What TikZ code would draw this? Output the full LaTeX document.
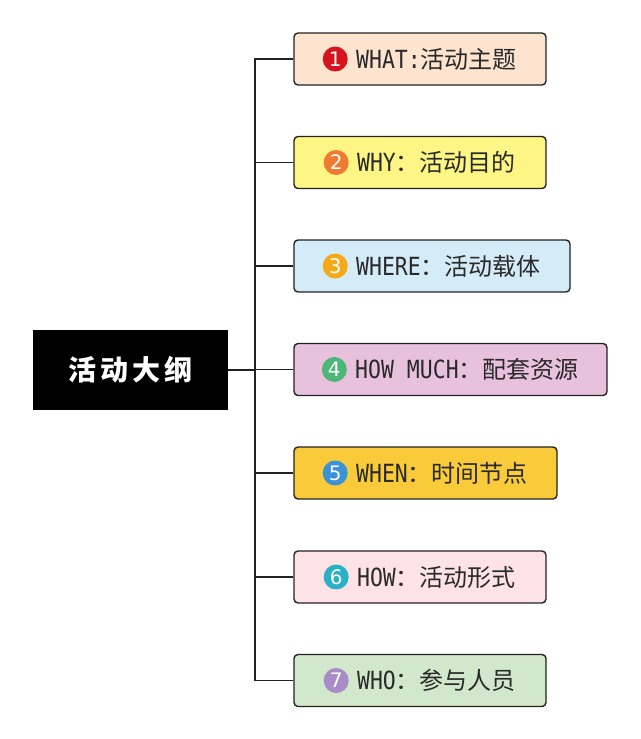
\documentclass[tikz,border=0pt]{standalone}
\usepackage{fontspec}
\newfontfamily\cjk{Noto Sans CJK SC}
\newfontfamily\lat[FakeStretch=0.86]{DejaVu Sans Mono}
\newfontfamily\numfont{DejaVu Sans}
\definecolor{linec}{HTML}{222222}
\definecolor{textc}{HTML}{2A2A2A}
\definecolor{f1}{HTML}{FCE4CF}
\definecolor{f2}{HTML}{FDF584}
\definecolor{f3}{HTML}{D4ECF7}
\definecolor{f4}{HTML}{E8C2DD}
\definecolor{f5}{HTML}{F9CB3A}
\definecolor{f6}{HTML}{FDE2E6}
\definecolor{f7}{HTML}{D2E8CC}
\definecolor{n1}{HTML}{D7141E}
\definecolor{n2}{HTML}{F07A30}
\definecolor{n3}{HTML}{F5A818}
\definecolor{n4}{HTML}{4DB77A}
\definecolor{n5}{HTML}{3A93D7}
\definecolor{n6}{HTML}{2BB0C8}
\definecolor{n7}{HTML}{A98BC8}
\newcommand\lt[1]{{\lat\fontsize{25pt}{25pt}\selectfont #1}}
\tikzset{
  item/.style={draw=linec, line width=1.4pt, rounded corners=4pt, minimum height=52pt, inner sep=0pt},
  num/.style={circle, minimum size=25pt, inner sep=0pt, text=white, font=\numfont\fontsize{20pt}{20pt}\selectfont},
  lab/.style={inner sep=0pt, text=textc, anchor=base, yshift=-9pt, font=\cjk\fontsize{24pt}{24pt}\selectfont},
  link/.style={draw=linec, line width=1.4pt},
  rootbox/.style={fill=black, minimum width=195pt, minimum height=80pt, inner sep=0pt, text=white, font=\cjk\bfseries\fontsize{28pt}{28pt}\selectfont}
}
\begin{document}
\begin{tikzpicture}[x=1pt,y=-1pt]
\useasboundingbox (0,0) rectangle (640,739);
\node[rootbox] (root) at (130.5,370) {活\hspace{4pt}动\hspace{4pt}大\hspace{4pt}纲};
\coordinate (trunk) at (255,0);
\node[item, fill=f1, minimum width=252pt] (b1) at (420,59) {};
\node[item, fill=f2, minimum width=252pt] (b2) at (420,162.5) {};
\node[item, fill=f3, minimum width=276pt] (b3) at (432,266) {};
\node[item, fill=f4, minimum width=313pt] (b4) at (450.5,369.5) {};
\node[item, fill=f5, minimum width=263pt] (b5) at (425.5,473) {};
\node[item, fill=f6, minimum width=252pt] (b6) at (420,577) {};
\node[item, fill=f7, minimum width=252pt] (b7) at (420,680.5) {};
\node[lab] (t1) at ([xshift=16.5pt]b1.center) {\lt{WHAT:}活动主题};
\node[lab] (t2) at ([xshift=16.5pt]b2.center) {\lt{WHY}：活动目的};
\node[lab] (t3) at ([xshift=16.5pt]b3.center) {\lt{WHERE}：活动载体};
\node[lab] (t4) at ([xshift=16.5pt]b4.center) {\lt{HOW MUCH}：配套资源};
\node[lab] (t5) at ([xshift=16.5pt]b5.center) {\lt{WHEN}：时间节点};
\node[lab] (t6) at ([xshift=16.5pt]b6.center) {\lt{HOW}：活动形式};
\node[lab] (t7) at ([xshift=16.5pt]b7.center) {\lt{WHO}：参与人员};
\foreach \i in {1,...,7}{
  \node[num, fill=n\i, anchor=east] (c\i) at ([xshift=-8pt]t\i.west |- b\i.center) {\i};
}
\draw[link] (b1.west) -- (b1.west -| trunk) -- (b7.west -| trunk) -- (b7.west);
\foreach \i in {2,...,6}{
  \draw[link] (b\i.west) -- (b\i.west -| trunk);
}
\draw[link] (root.east) -- (root.east -| trunk);
\end{tikzpicture}
\end{document}
